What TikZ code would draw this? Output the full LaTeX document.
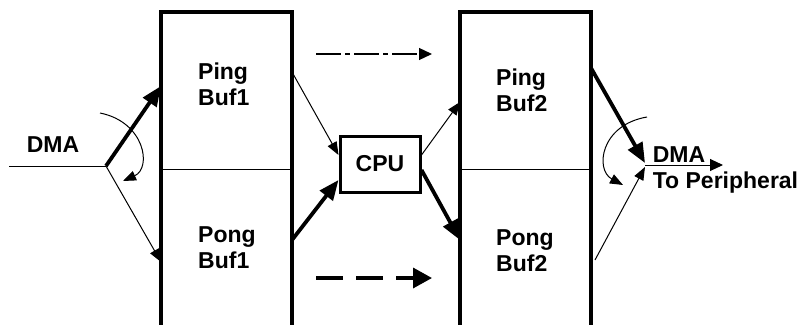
\documentclass[tikz,border=0pt]{standalone}
\usepackage{fontspec}
\setmainfont{Liberation Sans}
\usetikzlibrary{arrows.meta, positioning, calc}

\begin{document}
\begin{tikzpicture}[
        x=1pt, y=-1pt,
        >=Triangle,
        half/.style={
            rectangle,
            minimum width=131pt,
            minimum height=157pt,
            inner sep=0pt,
            outer sep=0pt
        },
        lbl/.style={
            font=\fontsize{23}{26}\selectfont\bfseries,
            align=left,
            inner sep=0pt
        },
        cpubox/.style={
            rectangle,
            draw,
            line width=3pt,
            minimum width=80pt,
            minimum height=56pt,
            font=\fontsize{23}{26}\selectfont\bfseries
        },
        bufline/.style={line width=3.8pt},
        thinline/.style={line width=1pt},
        thinarrow/.style={line width=1pt, -{Triangle[length=13pt,width=10pt]}},
        thickarrow/.style={line width=3.8pt, -{Triangle[length=20pt,width=16pt]}},
        dashdotarrow/.style={line width=1.3pt, dash pattern=on 25pt off 4pt on 5pt off 4pt,
            -{Triangle[length=13pt,width=12pt]}},
        dasharrow/.style={line width=3.5pt, dash pattern=on 27pt off 13pt,
            -{Triangle[length=19pt,width=20pt]}}
    ]
    \useasboundingbox (0,0) rectangle (803,324);

    % buffers (open at the bottom)
    \node[half] (ping1) at (226.5,90.5) {};
    \node[half, below=0pt of ping1] (pong1) {};
    \node[half] (ping2) at (525.5,90.5) {};
    \node[half, below=0pt of ping2] (pong2) {};

    \draw[bufline] (pong1.south west) -- (ping1.north west) -- (ping1.north east) -- (pong1.south east);
    \draw[bufline] (pong2.south west) -- (ping2.north west) -- (ping2.north east) -- (pong2.south east);
    \draw[thinline] (ping1.south west) -- (ping1.south east);
    \draw[thinline] (ping2.south west) -- (ping2.south east);

    \node[lbl, right=37pt of ping1.west, yshift=6pt] (pingtxt1) {Ping\\Buf1};
    \node[lbl, right=37pt of pong1.west] (pongtxt1) {Pong\\Buf1};
    \node[lbl, right=36pt of ping2.west] (pingtxt2) {Ping\\Buf2};
    \node[lbl, right=36pt of pong2.west, yshift=-3pt] (pongtxt2) {Pong\\Buf2};

    \node[cpubox] (cpu) at (380,164) {CPU};

    % DMA in
    \coordinate (dmain) at (9,166);
    \coordinate (split) at (106,166);
    \node[lbl] (dmaL) at (53,144.5) {DMA};
    \draw[thinline] (dmain) -- (split);
    \draw[thickarrow] (split) -- ([yshift=4.5pt]ping1.west);
    \draw[thinarrow] (split) -- ([yshift=-14.5pt]pong1.west);
    \coordinate (swL1) at (100,113);
    \coordinate (swL2) at (123,181);
    \draw[thinarrow] (swL1) .. controls (145,122) and (152,168) .. (swL2);

    % through the CPU
    \draw[thinarrow] ([yshift=18.5pt]ping1.east) -- ([yshift=9pt]cpu.west);
    \draw[thickarrow] ([yshift=7.5pt]pong1.east) -- ([yshift=-16pt]cpu.west);
    \draw[thinarrow] ([yshift=9pt]cpu.east) -- ([yshift=-11.5pt]ping2.west);
    \draw[thickarrow] ([yshift=-6pt]cpu.east) -- ([yshift=7.5pt]pong2.west);

    \coordinate (ctlA) at (316,54);
    \coordinate (ctlB) at (432,54);
    \draw[dashdotarrow] (ctlA) -- (ctlB);
    \coordinate (datA) at (316,278);
    \coordinate (datB) at (432,278);
    \draw[dasharrow] (datA) -- (datB);

    % DMA out
    \coordinate (dmaout) at (645,165);
    \coordinate (periph) at (723,165);
    \draw[thickarrow] ([yshift=22.5pt]ping2.east) -- ([yshift=2pt]dmaout);
    \draw[thinarrow] ([xshift=4pt,yshift=-12.5pt]pong2.east) -- ([yshift=-2pt]dmaout);
    \draw[thinarrow, -{Triangle[length=13pt,width=12pt]}] (dmaout) -- (periph);
    \node[lbl] (dmaR) at (679,154.5) {DMA};
    \node[lbl] (periphtxt) at (725.5,182.5) {To Peripheral};
    \coordinate (swR1) at (647,117);
    \coordinate (swR2) at (623,185);
    \draw[thinarrow] (swR1) .. controls (600,125) and (595,170) .. (swR2);

\end{tikzpicture}
\end{document}
